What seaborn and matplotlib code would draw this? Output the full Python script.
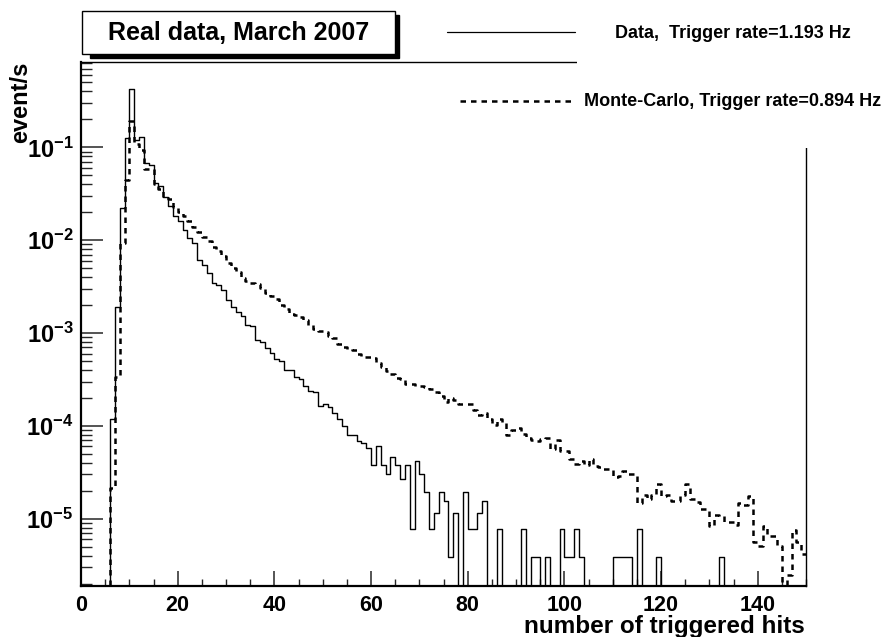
import numpy as np
import pandas as pd
import matplotlib
matplotlib.use("Agg")
import matplotlib.pyplot as plt
from matplotlib.patches import Rectangle
from matplotlib.lines import Line2D
from matplotlib.ticker import FixedLocator, MultipleLocator, NullFormatter
import seaborn as sns

# ---- histogram contents (event rate per bin of triggered hits, 1-hit bins) ----
bin_edges = list(range(0, 151))

data_rate = (
    [0, 0, 0, 0, 0, 0,
     1.2e-4, 1.9e-3, 2.2e-2, 1.25e-1, 4.3e-1, 1.2e-1, 1.3e-1, 6.7e-2, 6.5e-2,
     4.1e-2, 3.8e-2, 2.9e-2, 2.34e-2, 1.8e-2, 1.59e-2, 1.29e-2, 1.05e-2, 9.3e-3,
     6.1e-3, 5.4e-3, 4.4e-3, 3.5e-3, 3.3e-3, 2.9e-3, 2.28e-3, 1.93e-3, 1.68e-3,
     1.51e-3, 1.23e-3, 1.18e-3, 8.5e-4, 8.1e-4, 6.9e-4, 6.1e-4, 5.2e-4, 4.95e-4,
     4.0e-4, 3.95e-4, 3.4e-4, 3.2e-4, 2.67e-4, 2.38e-4, 2.3e-4, 1.65e-4, 1.7e-4,
     1.6e-4, 1.38e-4, 1.19e-4, 9.9e-5, 8.05e-5, 8.05e-5, 6.8e-5, 6.6e-5, 5.8e-5,
     3.8e-5, 6.0e-5, 3.8e-5, 3.07e-5, 4.6e-5, 3.8e-5, 2.69e-5, 3.8e-5, 7.7e-6,
     4.2e-5, 3.07e-5, 1.92e-5, 7.7e-6, 1.15e-5, 1.92e-5, 1.54e-5, 3.85e-6, 1.15e-5,
     0, 1.92e-5, 7.7e-6, 7.7e-6, 1.15e-5, 1.54e-5, 0, 0, 7.7e-6,
     0, 0, 0, 0, 7.7e-6, 0, 3.85e-6, 3.85e-6, 0, 3.85e-6, 0, 0,
     7.7e-6, 3.85e-6, 3.85e-6, 7.7e-6, 3.85e-6,
     0, 0, 0, 0, 0, 0,
     3.85e-6, 3.85e-6, 3.85e-6, 3.85e-6, 0, 7.7e-6, 0, 0, 0, 3.85e-6]
    + [0] * 12 + [3.85e-6] + [0] * 17
)

mc_rate = (
    [0, 0, 0, 0, 0, 0,
     2.15e-5, 3.4e-4, 9.3e-3, 4.5e-2, 1.9e-1, 1.08e-1, 9.4e-2, 5.9e-2, 5.8e-2,
     4.0e-2, 3.6e-2, 2.95e-2, 2.8e-2, 2.3e-2, 2.0e-2, 1.8e-2, 1.59e-2, 1.4e-2,
     1.22e-2, 1.08e-2, 9.7e-3, 8.5e-3, 7.7e-3, 6.8e-3, 5.7e-3, 5.0e-3, 4.5e-3,
     3.9e-3, 3.6e-3, 3.5e-3, 3.4e-3, 3.05e-3, 2.7e-3, 2.5e-3, 2.3e-3, 2.0e-3,
     1.8e-3, 1.6e-3, 1.58e-3, 1.5e-3, 1.37e-3, 1.23e-3, 1.1e-3, 1.05e-3, 1.03e-3,
     9.2e-4, 8.8e-4, 7.7e-4, 7.0e-4, 6.7e-4, 6.5e-4, 6.0e-4, 5.5e-4, 5.5e-4,
     5.4e-4, 4.8e-4, 4.3e-4, 3.9e-4, 3.6e-4, 3.3e-4, 3.2e-4, 2.8e-4, 2.8e-4,
     2.7e-4, 2.7e-4, 2.6e-4, 2.5e-4, 2.3e-4, 2.1e-4, 1.8e-4, 2.0e-4, 1.9e-4,
     1.7e-4, 1.7e-4, 1.7e-4, 1.5e-4, 1.3e-4, 1.38e-4, 1.18e-4, 1.02e-4, 1.18e-4,
     1.1e-4, 8.0e-5, 9.0e-5, 9.5e-5, 8.2e-5, 7.4e-5, 7.0e-5, 6.8e-5, 7.2e-5,
     7.4e-5, 5.6e-5, 7.1e-5, 5.3e-5, 5.3e-5, 4.4e-5, 3.9e-5, 4.2e-5, 3.8e-5,
     4.4e-5, 3.7e-5, 3.6e-5, 3.45e-5, 3.45e-5, 2.8e-5, 2.9e-5, 3.3e-5, 3.0e-5,
     3.0e-5, 1.47e-5, 1.8e-5, 1.63e-5, 1.8e-5, 2.34e-5, 1.76e-5, 1.8e-5, 1.55e-5,
     1.55e-5, 1.8e-5, 2.34e-5, 1.63e-5, 1.5e-5, 1.27e-5, 1.27e-5, 8.4e-6, 1.11e-5,
     1.06e-5, 9.3e-6, 9.3e-6, 8.6e-6, 1.47e-5, 1.4e-5, 1.76e-5, 5.6e-6, 5.1e-6,
     8.4e-6, 6.5e-6, 6.5e-6, 5.1e-6, 0, 2.5e-6, 7.5e-6, 5.6e-6, 4.2e-6]
)

y_major = [1e-5, 1e-4, 1e-3, 1e-2, 1e-1]
y_major_labels = [r"$\mathbf{10^{-5}}$", r"$\mathbf{10^{-4}}$", r"$\mathbf{10^{-3}}$",
                  r"$\mathbf{10^{-2}}$", r"$\mathbf{10^{-1}}$"]
x_major = [0, 20, 40, 60, 80, 100, 120, 140]

title_text = "Real data, March 2007"
data_label = "Data,  Trigger rate=1.193 Hz"
mc_label = "Monte-Carlo, Trigger rate=0.894 Hz"

# ---- style ----
sns.set_theme(style="white")
plt.rcParams["font.family"] = ["Liberation Sans", "DejaVu Sans"]
plt.rcParams["font.weight"] = "bold"
plt.rcParams["mathtext.fontset"] = "custom"
plt.rcParams["mathtext.rm"] = "Liberation Sans:bold"
plt.rcParams["mathtext.bf"] = "Liberation Sans:bold"
plt.rcParams["axes.unicode_minus"] = True

W, H = 888, 637
fig = plt.figure(figsize=(W / 100, H / 100), dpi=100, facecolor="white")


def fx(px):
    return px / W


def fy(py):
    return 1 - py / H


ax = fig.add_axes([fx(81), fy(585.5), fx(806) - fx(81), fy(62) - fy(585.5)])
ax.set_facecolor("white")

centers = [e + 0.5 for e in bin_edges[:-1]]
df_data = pd.DataFrame({"hits": centers, "rate": data_rate})
df_mc = pd.DataFrame({"hits": centers, "rate": mc_rate})

sns.histplot(data=df_data, x="hits", weights="rate", bins=bin_edges,
             element="step", fill=False, color="black", linewidth=1.0, ax=ax)
sns.histplot(data=df_mc, x="hits", weights="rate", bins=bin_edges,
             element="step", fill=False, color="black", linewidth=1.8,
             linestyle=(0, (2.2, 2.0)), ax=ax)

ax.set_yscale("log", nonpositive="clip")
ax.set_xlim(0, 150)
ax.set_ylim(1.91e-6, 0.83)
ax.set_xlabel("")
ax.set_ylabel("")

# axes frame
for side in ["left", "bottom"]:
    ax.spines[side].set_linewidth(1.6)
    ax.spines[side].set_color("black")
for side in ["top", "right"]:
    ax.spines[side].set_linewidth(1.0)
    ax.spines[side].set_color("black")

# x ticks
ax.xaxis.set_major_locator(FixedLocator(x_major))
ax.xaxis.set_minor_locator(MultipleLocator(5))
ax.set_xticklabels([str(v) for v in x_major])
ax.tick_params(axis="x", which="major", direction="in", length=10.8, width=1.1,
               bottom=True, top=False, pad=6.5, labelsize=15.5, labelcolor="black")
ax.tick_params(axis="x", which="minor", direction="in", length=5.3, width=1.0,
               bottom=True, top=False)

# y ticks
y_minor = [k * 10.0 ** d for d in range(-6, 0) for k in range(2, 10)]
y_minor = [v for v in y_minor if 1.91e-6 < v < 0.83]
ax.yaxis.set_major_locator(FixedLocator(y_major))
ax.yaxis.set_minor_locator(FixedLocator(y_minor))
ax.yaxis.set_minor_formatter(NullFormatter())
ax.set_yticklabels(y_major_labels)
ax.tick_params(axis="y", which="major", direction="in", length=15.8, width=1.1,
               left=True, right=False, pad=5.5, labelsize=17, labelcolor="black")
ax.tick_params(axis="y", which="minor", direction="in", length=7.9, width=1.0,
               left=True, right=False)

# legend area: white panel over the upper right corner of the frame
fig.add_artist(Rectangle((fx(577), fy(148)), 1 - fx(577), fy(0) - fy(148),
                         transform=fig.transFigure, facecolor="white",
                         edgecolor="none", zorder=10))
fig.add_artist(Line2D([fx(447), fx(575)], [fy(32), fy(32)], transform=fig.transFigure,
                      color="black", linewidth=0.9, zorder=11))
fig.add_artist(Line2D([fx(460), fx(573)], [fy(101), fy(101)], transform=fig.transFigure,
                      color="black", linewidth=1.8, linestyle=(0, (2.2, 2.0)), zorder=11))
fig.text(fx(615), fy(34), data_label, ha="left", va="center", fontsize=13,
         fontweight="bold", color="black", zorder=12)
fig.text(fx(584), fy(101), mc_label, ha="left", va="center", fontsize=13,
         fontweight="bold", color="black", zorder=12)

# title box with drop shadow
fig.add_artist(Rectangle((fx(90), fy(58)), fx(399) - fx(90), fy(15) - fy(58),
                         transform=fig.transFigure, facecolor="black",
                         edgecolor="black", zorder=12))
fig.add_artist(Rectangle((fx(82), fy(54)), fx(395) - fx(82), fy(11) - fy(54),
                         transform=fig.transFigure, facecolor="white",
                         edgecolor="black", linewidth=1.0, zorder=13))
fig.text(fx(238.5), fy(32.5), title_text, ha="center", va="center", fontsize=18,
         fontweight="bold", color="black", zorder=14)

# axis titles
fig.text(fx(805), fy(633.5), "number of triggered hits", ha="right", va="baseline",
         fontsize=17.5, fontweight="bold", color="black")
fig.text(fx(21), fy(62), "event/s", rotation=90, ha="center", va="top",
         fontsize=17, fontweight="bold", color="black")

fig.savefig("out.png", dpi=100, facecolor="white")
